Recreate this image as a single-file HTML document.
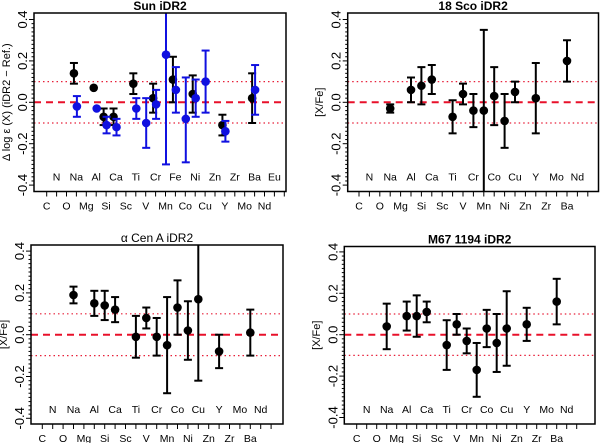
<!DOCTYPE html>
<html><head><meta charset="utf-8"><style>
html,body{margin:0;padding:0;background:#fff;}
svg{display:block;font-family:"Liberation Sans",sans-serif;}
</style></head><body>
<svg id="chart" width="600" height="443" viewBox="0 0 600 443" xmlns="http://www.w3.org/2000/svg"></svg>
<script>
// ---- Data ----
const sunElements = ["C","N","O","Na","Mg","Al","Si","Ca","Sc","Ti","V","Cr","Mn","Fe","Co","Ni","Cu","Zn","Y","Zr","Mo","Ba","Nd","Eu"];
const starElements = ["C","N","O","Na","Mg","Al","Si","Ca","Sc","Ti","V","Cr","Mn","Co","Ni","Cu","Zn","Y","Zr","Mo","Ba","Nd"];
const yTicks = [-0.4,-0.2,0.0,0.2,0.4];
const yTickLabels = ["-0.4","-0.2","0.0","0.2","0.4"];

const sunBlackEl  = ["Na","Al","Si","Ca","Ti","Cr","Fe","Ni","Y","Ba"];
const sunBlackVal = [0.14,0.07,-0.07,-0.07,0.09,0.02,0.11,0.04,-0.11,0.02];
const sunBlackLo  = [0.09,0.07,-0.11,-0.11,0.04,-0.05,0.00,-0.05,-0.16,-0.10];
const sunBlackHi  = [0.19,0.07,-0.03,-0.03,0.14,0.09,0.22,0.13,-0.06,0.14];
const sunBlueEl   = ["Na","Al","Si","Ca","Ti","V","Cr","Mn","Fe","Co","Ni","Cu","Y","Ba"];
const sunBlueVal  = [-0.02,-0.03,-0.11,-0.12,-0.03,-0.10,-0.01,0.23,0.06,-0.08,0.02,0.10,-0.14,0.06];
const sunBlueLo   = [-0.07,-0.03,-0.15,-0.16,-0.08,-0.22,-0.08,-0.30,-0.05,-0.29,-0.07,-0.05,-0.19,-0.06];
const sunBlueHi   = [0.03,-0.03,-0.07,-0.08,0.02,0.02,0.06,0.50,0.17,0.12,0.11,0.25,-0.09,0.18];

const scoEl  = ["Na","Al","Si","Ca","Ti","V","Cr","Mn","Co","Ni","Cu","Y","Ba"];
const scoVal = [-0.03,0.06,0.08,0.11,-0.07,0.04,-0.04,-0.04,0.03,-0.09,0.05,0.02,0.20];
const scoLo  = [-0.05,0.00,-0.01,0.04,-0.15,-0.01,-0.12,-0.45,-0.11,-0.22,0.00,-0.15,0.10];
const scoHi  = [-0.01,0.12,0.17,0.18,0.01,0.09,0.04,0.35,0.17,0.04,0.10,0.19,0.30];

const cenEl  = ["Na","Al","Si","Ca","Ti","V","Cr","Mn","Co","Ni","Cu","Y","Ba"];
const cenVal = [0.19,0.15,0.14,0.12,-0.01,0.08,-0.01,-0.05,0.13,0.02,0.17,-0.08,0.01];
const cenLo  = [0.15,0.09,0.07,0.06,-0.11,0.03,-0.10,-0.28,0.00,-0.12,-0.22,-0.16,-0.10];
const cenHi  = [0.23,0.21,0.21,0.18,0.09,0.13,0.08,0.18,0.26,0.16,0.50,0.00,0.12];

const m67El  = ["Na","Al","Si","Ca","Ti","V","Cr","Mn","Co","Ni","Cu","Y","Ba"];
const m67Val = [0.04,0.09,0.09,0.11,-0.05,0.05,-0.03,-0.17,0.03,-0.04,0.03,0.05,0.16];
const m67Lo  = [-0.07,0.02,-0.01,0.06,-0.17,0.00,-0.09,-0.30,-0.06,-0.18,-0.15,-0.03,0.05];
const m67Hi  = [0.15,0.16,0.19,0.16,0.07,0.10,0.03,-0.04,0.12,0.10,0.21,0.13,0.27];

// ---- Drawing ----
const svg = document.getElementById('chart');
const NS = "http://www.w3.org/2000/svg";
function mk(tag, attrs, parent){
  const e = document.createElementNS(NS, tag);
  for (const k in attrs) e.setAttribute(k, attrs[k]);
  (parent||svg).appendChild(e);
  return e;
}

function panel(cfg){
  const g = mk('g', {});
  
  
  const L=cfg.l,T=cfg.t,R=cfg.r,B=cfg.b;
  const yS = v => cfg.zero - v*cfg.scale;
  const xS = i => cfg.x0 + i*cfg.step;
  const clipId = cfg.name+'-clip';
  const defs = mk('defs',{},g);
  const cp = mk('clipPath',{id:clipId},defs);
  mk('rect',{x:L,y:T,width:R-L,height:B-T},cp);

  const tt = mk('text',{x:(L+R)/2,y:T-3,'text-anchor':'middle','font-size':12,'font-weight':cfg.bold?'bold':'normal',fill:'#000'},g);
  tt.textContent = cfg.title;
  
  

  const rl = mk('g',{'clip-path':'url(#'+clipId+')'},g);
  
  
  mk('line',{x1:L,x2:R,y1:yS(0),y2:yS(0),stroke:'#e8102a','stroke-width':2,'stroke-dasharray':'7,5'},rl);
  [0.1,-0.1].forEach(v=>mk('line',{x1:L,x2:R,y1:yS(v),y2:yS(v),stroke:'#e8203a','stroke-width':1.2,'stroke-dasharray':'1.5,3'},rl));

  const ya = mk('g',{},g);
  
  
  for (let k=-20;k<=20;k++){
    const v=k*0.02, y=yS(v);
    if (y<T-1||y>B+1) continue;
    const major = (k%10===0);
    mk('line',{x1:L-(major?5:2.5),x2:L,y1:y,y2:y,stroke:'#000','stroke-width':1},ya);
  }
  yTicks.forEach((v,i)=>{
    const y=yS(v);
    const t=mk('text',{x:0,y:0,transform:`translate(${L-7},${y}) rotate(-90)`,'text-anchor':'middle','font-size':13,fill:'#000'},ya);
    t.textContent=yTickLabels[i];
    
    
  });
  const yt = mk('text',{x:0,y:0,transform:`translate(${cfg.ytx},${(T+B)/2}) rotate(-90)`,'text-anchor':'middle','font-size':11,fill:'#000'},g);
  yt.textContent = cfg.ytitle;
  
  

  const xa = mk('g',{},g);
  
  
  for (let i=0;i<=cfg.els.length;i++){
    const x=xS(i);
    mk('line',{x1:x,x2:x,y1:B,y2:B+5,stroke:'#000','stroke-width':1},xa);
  }
  cfg.els.forEach((el,i)=>{
    const odd=i%2===1;
    const t=mk('text',{x:xS(i),y:odd?B-11:B+18,'text-anchor':'middle','font-size':10.5,fill:'#000'},xa);
    t.textContent=el;
    
    
  });

  cfg.series.forEach(s=>{
    const sg = mk('g',{'clip-path':'url(#'+clipId+')'},g);
    
    
    s.el.forEach((el,j)=>{
      const idx = cfg.els.indexOf(el);
      const x = xS(idx + s.off);
      const y = yS(s.val[j]), y1=yS(s.lo[j]), y2=yS(s.hi[j]);
      if (Math.abs(y1-y2)>1){
        mk('line',{x1:x,x2:x,y1:y1,y2:y2,stroke:s.color,'stroke-width':2},sg);
        mk('line',{x1:x-4,x2:x+4,y1:y1,y2:y1,stroke:s.color,'stroke-width':2},sg);
        mk('line',{x1:x-4,x2:x+4,y1:y2,y2:y2,stroke:s.color,'stroke-width':2},sg);
      }
      const c = mk('circle',{cx:x,cy:y,r:4.3,fill:s.color},sg);
      
      
    });
  });

  const bx = mk('rect',{x:L,y:T,width:R-L,height:B-T,fill:'none',stroke:'#000','stroke-width':1.5},g);
  
  
}

panel({name:'sun-panel',title:'Sun iDR2',bold:true,l:34,t:13,r:286,b:191.5,x0:46.7,step:9.9,zero:102.3,scale:207,
  els:sunElements,ytitle:'\u0394 log \u03b5 (X) (iDR2 \u2212 Ref.)',ytx:10,
  series:[{name:'sun-series-black',el:sunBlackEl,val:sunBlackVal,lo:sunBlackLo,hi:sunBlackHi,color:'#000',off:-0.25},
          {name:'sun-series-blue',el:sunBlueEl,val:sunBlueVal,lo:sunBlueLo,hi:sunBlueHi,color:'#1010e0',off:0.05}]});
panel({name:'18sco-panel',title:'18 Sco iDR2',bold:true,l:347.7,t:13,r:598.5,b:191.5,x0:359,step:10.4,zero:102.3,scale:207,
  els:starElements,ytitle:'[X/Fe]',ytx:323,
  series:[{name:'18sco-series',el:scoEl,val:scoVal,lo:scoLo,hi:scoHi,color:'#000',off:0}]});
panel({name:'alpha-cen-a-panel',title:'\u03b1 Cen A iDR2',bold:false,l:31,t:245,r:283,b:424,x0:42.3,step:10.4,zero:334.7,scale:209,
  els:starElements,ytitle:'[X/Fe]',ytx:7,
  series:[{name:'alpha-cen-a-series',el:cenEl,val:cenVal,lo:cenLo,hi:cenHi,color:'#000',off:0}]});
panel({name:'m67-1194-panel',title:'M67 1194 iDR2',bold:true,l:344.3,t:246.5,r:595,b:424,x0:356.7,step:10,zero:334.7,scale:207,
  els:starElements,ytitle:'[X/Fe]',ytx:320,
  series:[{name:'m67-1194-series',el:m67El,val:m67Val,lo:m67Lo,hi:m67Hi,color:'#000',off:0}]});
</script>
</body></html>
